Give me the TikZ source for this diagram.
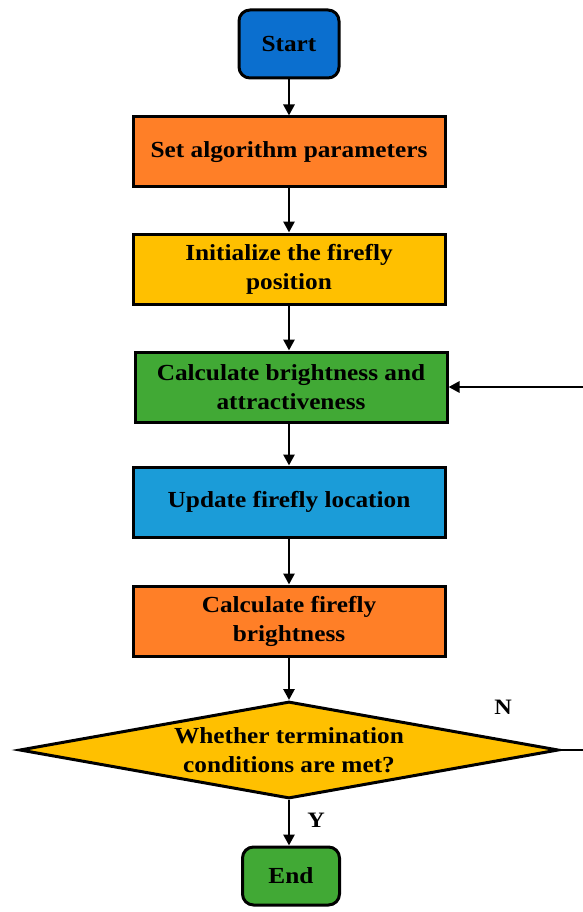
\documentclass[tikz,border=0pt]{standalone}
\usepackage{fontspec}
\setmainfont{Liberation Serif}[FakeStretch=1.1]
\usetikzlibrary{shapes.geometric,arrows.meta}
\definecolor{cblue}{HTML}{0B6FCF}
\definecolor{corange}{HTML}{FF7F27}
\definecolor{cyellow}{HTML}{FFC000}
\definecolor{cgreen}{HTML}{41A935}
\definecolor{cblue2}{HTML}{1B9CD8}
\begin{document}
\begin{tikzpicture}[x=1pt,y=-1pt,
  txt/.style={font=\fontsize{23}{29}\selectfont\bfseries,align=center},
  box/.style={txt,draw=black,line width=3pt,minimum width=312pt,minimum height=70pt,inner sep=0pt},
  term/.style={box,rounded corners=11pt},
  arr/.style={line width=2.7pt,-{Triangle[width=11pt,length=11pt]}},
  lab/.style={font=\fontsize{22}{24}\selectfont\bfseries,inner sep=0pt}]
\useasboundingbox (0,0) rectangle (583,912);
\clip (0,0) rectangle (583,912);
\node[term,fill=cblue,minimum width=100pt,minimum height=68pt] (start) at (289,44) {Start};
\node[box,fill=corange] (set) at (289,152) {Set algorithm parameters};
\node[box,fill=cyellow] (init) at (289,269) {Initialize the firefly\\position};
\node[box,fill=cgreen] (calc) at (291,387) {Calculate brightness and\\attractiveness};
\node[box,fill=cblue2] (upd) at (289,502) {Update firefly location};
\node[box,fill=corange] (cfb) at (289,621) {Calculate firefly\\brightness};
\node[diamond,draw=black,line width=3pt,fill=cyellow,minimum width=539pt,minimum height=97pt,inner sep=0pt,
  label={[txt]center:Whether termination\\conditions are met?}] (dec) at (289,750) {};
\node[term,fill=cgreen,minimum width=97pt,minimum height=58pt] (end) at (291,876) {End};
\node[lab] (n) at (503,707) {N};
\node[lab] (y) at (316,820) {Y};
\draw[arr] (start) -- (start |- set.north);
\draw[arr] (set) -- (set |- init.north);
\draw[arr] (init) -- (init |- calc.north);
\draw[arr] (calc.south -| upd) -- (upd);
\draw[arr] (upd) -- (upd |- cfb.north);
\draw[arr] (cfb) -- (cfb |- dec.north);
\draw[arr] (dec.south) -- (dec.south |- end.north);
\draw[arr] (dec.east) -- ++(40,0) |- (calc.east);
\end{tikzpicture}
\end{document}
